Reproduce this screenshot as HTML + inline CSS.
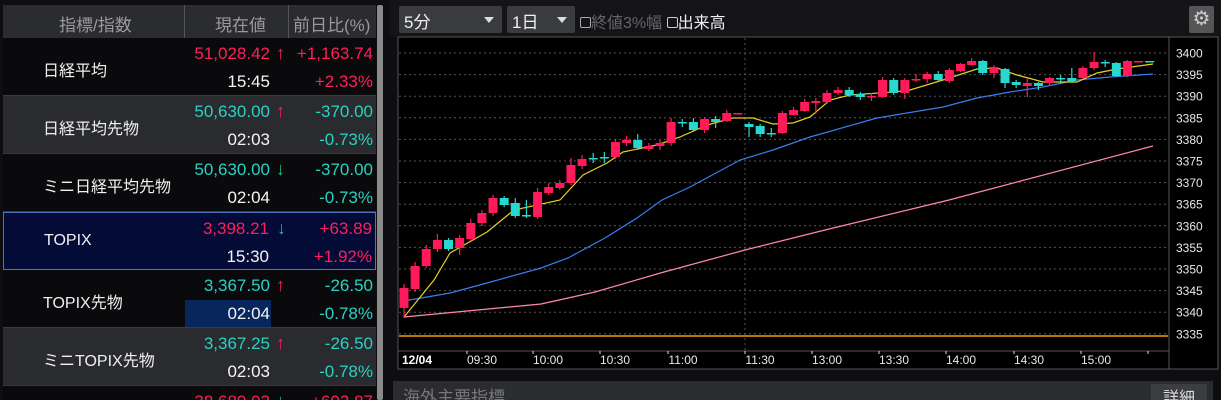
<!DOCTYPE html>
<html><head><meta charset="utf-8"><style>
*{margin:0;padding:0;box-sizing:border-box}
html{width:1221px;height:400px;overflow:hidden}
body{width:1221px;height:400px;overflow:hidden;background:#0e0e12;font-family:"Liberation Sans","Noto Sans CJK JP",sans-serif;position:relative}
.lp{position:absolute;left:0;top:0;width:388px;height:400px;background:#0e0e12;overflow:hidden}
.hdr{position:absolute;left:3px;top:5px;width:373px;height:33px;background:#2b2c30;color:#9a9a9a;font-size:17px}
.hdr div{position:absolute;top:6px}
.row{position:absolute;left:3px;width:373px;height:58px;font-size:17px;border-bottom:1px solid #3a3a3e}
.nm{position:absolute;left:40px;top:19px;color:#f0f0f0;font-size:16px}
.v{position:absolute;right:106px;top:6px}
.ar{position:absolute;left:273px;top:5px;font-size:18px}
.c1{position:absolute;right:3px;top:6px}
.t{position:absolute;right:106px;top:34px;color:#f4f4f4}
.c2{position:absolute;right:3px;top:34px}
.red{color:#ff1f5a}.cy{color:#28d2c4}.gr{color:#1fc080}
.sb{position:absolute;left:377px;top:5px;width:6px;height:395px;background:#8a8a8a;border-radius:2px}
.top{position:absolute;left:390px;top:0;width:831px;height:37px;background:#141418}
.dd{position:absolute;top:6px;height:27px;background:#3a3b3f;border-radius:2px;color:#f0f0f0;font-size:17px;padding:2px 5px}
.dd:after{content:"";position:absolute;right:8px;top:11px;border-left:5px solid transparent;border-right:5px solid transparent;border-top:6px solid #ddd}
.bp{position:absolute;left:393px;top:381px;width:820px;height:19px;background:#2b2c30;color:#777;font-size:17px;padding-left:10px;padding-top:2px;overflow:hidden}
</style></head><body>
<div class="lp">
<div class="hdr"><div style="left:56px">指標/指数</div><div style="left:212px">現在値</div><div style="left:290px">前日比(%)</div>
<div style="left:181px;top:0;width:1px;height:33px;background:#555"></div><div style="left:285px;top:0;width:1px;height:33px;background:#555"></div></div>
<div class="row" style="top:38px;background:#0a0a0c"><div class="nm">日経平均</div><div class="v red">51,028.42</div><div class="ar red">↑</div><div class="c1 red">+1,163.74</div><div class="t">15:45</div><div class="c2 red">+2.33%</div></div>
<div class="row" style="top:96px;background:#2a2b2e"><div class="nm">日経平均先物</div><div class="v cy">50,630.00</div><div class="ar red">↑</div><div class="c1 cy">-370.00</div><div class="t">02:03</div><div class="c2 cy">-0.73%</div></div>
<div class="row" style="top:154px;background:#0a0a0c"><div class="nm">ミニ日経平均先物</div><div class="v cy">50,630.00</div><div class="ar gr">↓</div><div class="c1 cy">-370.00</div><div class="t">02:04</div><div class="c2 cy">-0.73%</div></div>
<div class="row" style="top:212px;height:58px;background:#030b36;border:1px solid #4d74c4"><div class="nm">TOPIX</div><div class="v red">3,398.21</div><div class="ar gr">↓</div><div class="c1 red">+63.89</div><div class="t">15:30</div><div class="c2 red">+1.92%</div></div>
<div class="row" style="top:270px;background:#0a0a0c"><div class="nm">TOPIX先物</div><div style="position:absolute;left:182px;top:30px;width:86px;height:27px;background:#06265c"></div><div class="v cy">3,367.50</div><div class="ar red">↑</div><div class="c1 cy">-26.50</div><div class="t">02:04</div><div class="c2 cy">-0.78%</div></div>
<div class="row" style="top:328px;background:#2a2b2e"><div class="nm">ミニTOPIX先物</div><div class="v cy">3,367.25</div><div class="ar red">↑</div><div class="c1 cy">-26.50</div><div class="t">02:03</div><div class="c2 cy">-0.78%</div></div>
<div class="row" style="top:386px;height:14px;border:none;background:#0a0a0c"><div class="v red">38,689.93</div><div class="ar gr">↓</div><div class="c1 red">+693.87</div></div>
<div class="sb"></div>
</div>
<div class="top">
<div class="dd" style="left:9px;width:103px">5分</div>
<div class="dd" style="left:117px;width:68px">1日</div>
<div style="position:absolute;left:190px;top:9px;font-size:16px;color:#666"><span style="display:inline-block;width:11px;height:11px;border:1px solid #aaa;border-radius:2px"></span>終値3%幅 <span style="color:#f0f0f0"><span style="display:inline-block;width:11px;height:11px;border:1px solid #ccc;border-radius:2px"></span>出来高</span></div>
<div style="position:absolute;left:799px;top:6px;width:25px;height:27px;background:#555;border-radius:2px;color:#ccc;font-size:20px;text-align:center;line-height:26px">⚙</div>
</div>
<svg style="position:absolute;left:0;top:0" width="1221" height="400" id="s">
<rect x="398" y="37" width="820" height="332" fill="#000" stroke="#555"/>
<line x1="1169" y1="37" x2="1169" y2="369" stroke="#555"/>
<line x1="398" y1="351" x2="1169" y2="351" stroke="#555"/>
<g id="g"></g>
</svg>
<div class="bp">海外主要指標<div style="position:absolute;right:6px;top:3px;width:56px;height:18px;background:#3c3d41;color:#ddd;font-size:16px;text-align:center">詳細</div></div>
<script>
var g=document.getElementById('g'),h='';
for(var i=0;i<14;i++){var y=53+i*21.6;h+='<line x1="399" x2="1168" y1="'+y+'" y2="'+y+'" stroke="#555" stroke-dasharray="2,3"/>';h+='<text x="1176" y="'+(y+4.5)+'" fill="#e8e8e8" font-size="12" font-family="Liberation Sans">'+(3400-i*5)+'</text>';}
h+='<line x1="745" x2="745" y1="38" y2="351" stroke="#555" stroke-dasharray="2,3"/>';
h+='<line x1="399" x2="1168" y1="336" y2="336" stroke="#f0a000" stroke-width="1.5"/>';
var tk=[[467,'09:30'],[533,'10:00'],[600,'10:30'],[668,'11:00'],[745,'11:30'],[812,'13:00'],[879,'13:30'],[946,'14:00'],[1014,'14:30'],[1081,'15:00'],[1148,'']];
tk.forEach(function(t){h+='<line x1="'+t[0]+'" x2="'+t[0]+'" y1="351" y2="354" stroke="#ddd"/>';if(t[1])h+='<text x="'+(t[0]+15)+'" y="364" text-anchor="middle" fill="#e8e8e8" font-size="12" font-family="Liberation Sans">'+t[1]+'</text>';});
h+='<text x="402" y="364" fill="#fff" font-weight="bold" font-size="12" font-family="Liberation Sans">12/04</text>';
function pl(p,c){h+='<polyline fill="none" stroke="'+c+'" stroke-width="1.2" points="'+p+'"/>';}
pl('404,317 541,304 595,292 664,272 745,250 825,230 949,200 1153,146','#ff8aa8');
pl('404,301 450,293 487,283 541,268 568,258 605,238 637,218 662,200 690,187 740,160 773,150 810,137 877,118 943,107 977,98 1010,92 1043,87 1077,80 1110,77 1153,74','#3a7df0');
pl('404,317 434,280 450,253 487,232 514,210 560,200 583,175 607,163 623,152 657,145 680,137 707,125 733,118 753,118 773,124 793,123 810,117 830,100 850,95 893,92 910,90 943,80 977,69 997,68 1017,75 1043,82 1077,82 1097,73 1117,69 1153,64','#e8d020');
var C=[['r',288,308,284,318],['r',266,289,262,292],['r',249,266,245,268],['r',240,249,234,252],['c',240,249,238,251],['r',238,248,235,255],['r',223,239,219,241],['r',213,223,210,226],['r',198,213,195,216],['c',198,205,196,207],['c',203,216,198,218],['x',215,215,200,218],['r',192,217,188,219],['r',187,193,183,195],['r',183,188,180,190],['r',165,183,158,185],['r',159,166,155,169],['x',158,158,153,163],['x',157,157,152,163],['r',142,157,139,159],['r',140,143,136,146],['c',140,148,134,150],['r',146,149,143,151],['r',143,146,140,150],['r',122,143,118,146],['x',122,122,119,127],['c',122,130,118,132],['r',119,130,117,133],['c',119,122,116,128],['r',113,121,110,122],['r',113,114,113,114],['c',124,127,122,137],['c',126,134,124,137],['x',133,133,128,137],['r',113,133,111,134],['r',110,115,107,116],['r',102,111,99,112],['r',101,103,98,114],['r',93,102,90,104],['r',90,93,87,95],['c',90,95,87,97],['c',94,97,92,100],['r',96,97,93,101],['r',80,97,77,98],['c',80,93,78,95],['r',80,93,78,99],['r',79,80,74,82],['r',74,79,72,83],['c',74,80,71,82],['r',70,81,68,83],['r',64,71,63,72],['r',61,65,58,66],['c',61,73,60,75],['r',67,73,65,78],['c',69,83,68,88],['c',82,85,80,88],['r',83,86,78,97],['c',83,86,82,90],['r',78,83,77,86],['x',78,78,75,84],['c',78,81,68,82],['r',68,78,66,79],['r',62,68,52,70],['x',62,62,60,67],['c',63,76,62,77],['r',61,76,60,77],['r',61,62,61,62],['c',61,62,61,62]];
C.forEach(function(c,i){var x=404+i*11.13,col=c[0]=='c'?'#28d8d0':'#ff1a5a';if(c[0]=='x')col='#28d8d0';
h+='<line x1="'+x+'" x2="'+x+'" y1="'+c[3]+'" y2="'+c[4]+'" stroke="'+col+'" stroke-width="1.2"/>';
h+='<rect x="'+(x-4.5)+'" y="'+c[1]+'" width="9" height="'+Math.max(1.5,c[2]-c[1])+'" fill="'+col+'"/>';});
g.innerHTML=h;
</script>
</body></html>
